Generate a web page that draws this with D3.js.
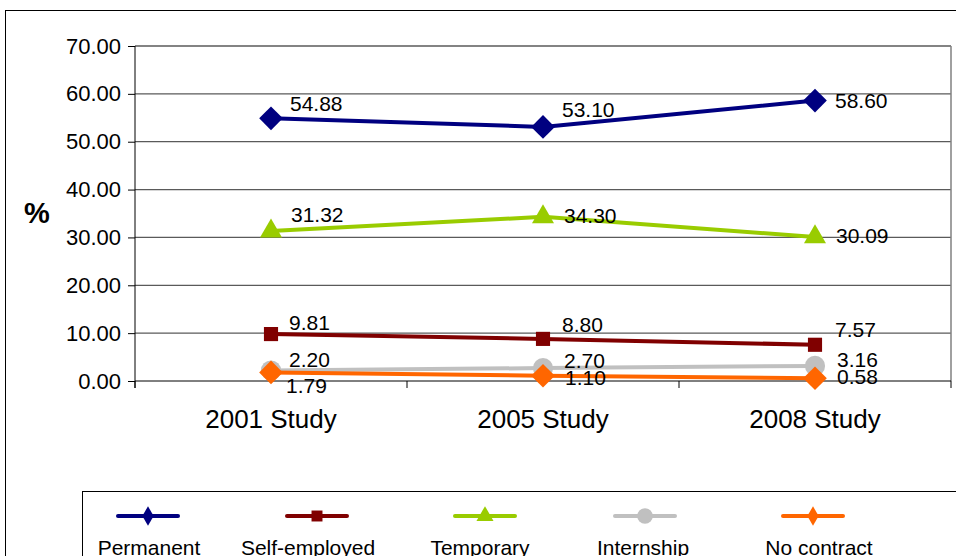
<!DOCTYPE html>
<html>
<head>
<meta charset="utf-8">
<script src="https://cdn.jsdelivr.net/npm/d3@7"></script>
<style>
  html, body { margin: 0; padding: 0; background: #fff; }
  svg { display: block; font-family: "Liberation Sans", Arial, sans-serif; }
</style>
</head>
<body>
<svg id="chart" width="956" height="556"></svg>
<script>
// Employment contract types across three studies (%)
const categories = ["2001 Study", "2005 Study", "2008 Study"];
const seriesNames = ["Permanent", "Self-employed", "Temporary", "Internship", "No contract"];
const permanent    = [54.88, 53.10, 58.60];
const selfEmployed = [9.81, 8.80, 7.57];
const temporary    = [31.32, 34.30, 30.09];
const internship   = [2.20, 2.70, 3.16];
const noContract   = [1.79, 1.10, 0.58];
const yTicks = [0, 10, 20, 30, 40, 50, 60, 70];

const seriesValues = [permanent, selfEmployed, temporary, internship, noContract];
const colors  = ["#000080", "#800000", "#99cc00", "#c0c0c0", "#ff6600"];
const symbols = ["diamond", "square", "triangle", "circle", "diamond"];

// value-label nudges (dx, dy) per series / category, in px
const labelNudge = [
  [[19, -7], [19, -10], [20, 7]],
  [[18, -4], [19, -7], [20, -8]],
  [[20, -9], [21, 6], [21, 6]],
  [[18, -3], [21, 0], [22, 1]],
  [[15, 21], [22, 9], [22, 6]]
];

const svg = d3.select("#chart");
const plot = { left: 135, right: 951, top: 46, bottom: 381 };

// outer chart frame (continues past the right and bottom edges)
svg.append("rect")
  .attr("x", 5.5).attr("y", 10.5)
  .attr("width", 1100).attr("height", 700)
  .attr("fill", "#fff").attr("stroke", "#000").attr("stroke-width", 1);

const x = d3.scaleBand().domain(categories).range([plot.left, plot.right]).padding(0);
const y = d3.scaleLinear().domain([0, 70]).range([plot.bottom, plot.top]);
const cx = c => x(c) + x.bandwidth() / 2;

// gridlines
svg.append("g").selectAll("line").data(yTicks.filter(t => t > 0)).join("line")
  .attr("x1", plot.left).attr("x2", plot.right)
  .attr("y1", d => y(d)).attr("y2", d => y(d))
  .attr("stroke", "#5a5a5a").attr("stroke-width", 1.3);

// plot area right border
svg.append("line")
  .attr("x1", plot.right).attr("x2", plot.right)
  .attr("y1", plot.top).attr("y2", plot.bottom)
  .attr("stroke", "#808080").attr("stroke-width", 1.5);

// y axis
const yAxis = d3.axisLeft(y).tickValues(yTicks).tickFormat(d3.format(".2f")).tickSize(7).tickPadding(7);
const gy = svg.append("g").attr("transform", `translate(${plot.left},0)`).call(yAxis);
gy.select(".domain").remove();
gy.selectAll(".tick line").attr("stroke", "#000");
gy.selectAll(".tick text").attr("font-size", 22).attr("fill", "#000")
  .attr("font-family", "Liberation Sans, Arial, sans-serif");
svg.append("line")
  .attr("x1", plot.left).attr("x2", plot.left)
  .attr("y1", plot.top).attr("y2", plot.bottom + 7)
  .attr("stroke", "#000");

// x axis
svg.append("line")
  .attr("x1", plot.left).attr("x2", plot.right)
  .attr("y1", plot.bottom).attr("y2", plot.bottom)
  .attr("stroke", "#000");
const bounds = categories.map(c => x(c)).concat([plot.right]);
svg.append("g").selectAll("line").data(bounds).join("line")
  .attr("x1", d => d).attr("x2", d => d)
  .attr("y1", plot.bottom).attr("y2", plot.bottom + 7)
  .attr("stroke", "#000");
svg.append("g").selectAll("text").data(categories).join("text")
  .attr("x", d => cx(d)).attr("y", 428)
  .attr("text-anchor", "middle").attr("font-size", 26).attr("fill", "#000")
  .text(d => d);

// axis title
svg.append("text")
  .attr("x", 37).attr("y", 223).attr("text-anchor", "middle")
  .attr("font-size", 29).attr("font-weight", "bold").text("%");

// square-cornered diamond (equal width and height)
const squareDiamond = {
  draw(ctx, size) {
    const r = Math.sqrt(size / 2);
    ctx.moveTo(0, -r); ctx.lineTo(r, 0); ctx.lineTo(0, r); ctx.lineTo(-r, 0); ctx.closePath();
  }
};
const symType = { diamond: squareDiamond, square: d3.symbolSquare, triangle: d3.symbolTriangle, circle: d3.symbolCircle };
const symSize = { diamond: 280, square: 200, triangle: 210, circle: 320 };
function marker(g, kind, color, type, size) {
  g.append("path")
    .attr("d", d3.symbol().type(type || symType[kind]).size(size || symSize[kind])())
    .attr("fill", color);
}

const line = d3.line().x((d, i) => cx(categories[i])).y(d => y(d));

seriesValues.forEach((vals, s) => {
  const g = svg.append("g");
  g.append("path").datum(vals).attr("d", line)
    .attr("fill", "none").attr("stroke", colors[s]).attr("stroke-width", 4);
  vals.forEach((v, i) => {
    const m = g.append("g").attr("transform", `translate(${cx(categories[i])},${y(v)})`);
    marker(m, symbols[s], colors[s]);
  });
});

// value labels
seriesValues.forEach((vals, s) => {
  svg.append("g").selectAll("text").data(vals).join("text")
    .attr("x", (d, i) => cx(categories[i]) + labelNudge[s][i][0])
    .attr("y", (d, i) => y(d) + labelNudge[s][i][1])
    .attr("font-size", 21).attr("fill", "#000")
    .text(d => d3.format(".2f")(d));
});

// legend
svg.append("rect")
  .attr("x", 82.5).attr("y", 491.5).attr("width", 1000).attr("height", 200)
  .attr("fill", "#fff").attr("stroke", "#000").attr("stroke-width", 1);
const legendX = [148, 317, 485, 645, 813];
const legendLabelX = [149, 308, 480, 643, 819];
seriesNames.forEach((name, s) => {
  const g = svg.append("g").attr("transform", `translate(${legendX[s]},516)`);
  g.append("line").attr("x1", -30).attr("x2", 30)
    .attr("stroke", colors[s]).attr("stroke-width", 4).attr("stroke-linecap", "round");
  if (symbols[s] === "diamond") marker(g, "diamond", colors[s], d3.symbolDiamond, 110);
  else marker(g, symbols[s], colors[s], null, symSize[symbols[s]] * 0.6);
  svg.append("text").attr("x", legendLabelX[s]).attr("y", 555)
    .attr("text-anchor", "middle").attr("font-size", 21).text(name);
});
</script>
</body>
</html>
